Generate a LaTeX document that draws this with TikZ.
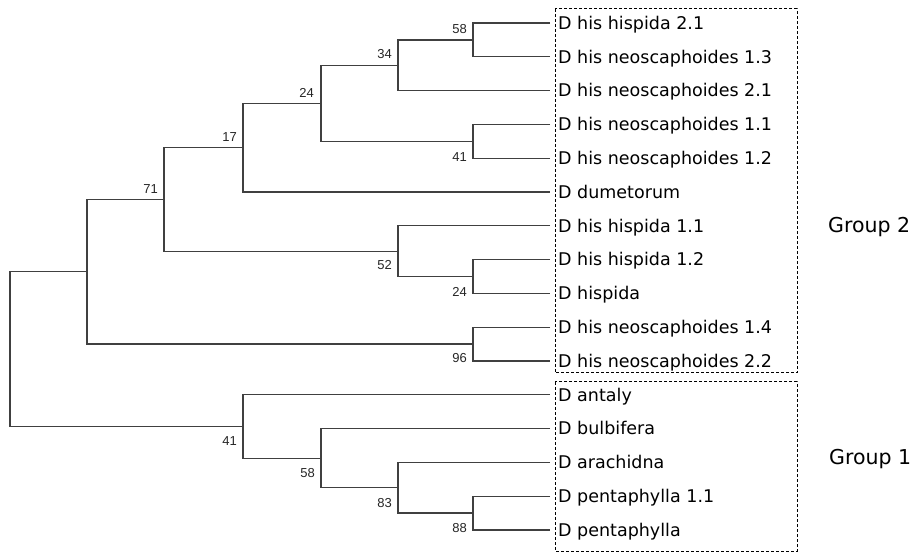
\documentclass[tikz,border=0pt]{standalone}
\usepackage{fontspec}
\setmainfont{DejaVu Sans}
\newfontfamily\numfont{Liberation Sans}
\begin{document}
\begin{tikzpicture}[x=1pt,y=-1pt,
  branch/.style={draw=black!75,line width=1.3pt},
  leaf/.style={anchor=west,inner xsep=0pt,inner ysep=0pt,text height=12.8pt,text depth=0pt,
     font=\fontsize{17.5}{20}\selectfont},
  tipbox/.style={draw=black,line width=1pt,dash pattern=on 3pt off 2pt},
  grp/.style={anchor=west,inner sep=0pt,text height=14pt,text depth=0pt,font=\fontsize{20.5}{23}\selectfont},
  uplab/.style={anchor=south east,inner sep=0pt,font=\numfont\fontsize{13}{15}\selectfont,text=black!85},
  lowlab/.style={anchor=east,inner sep=0pt,font=\numfont\fontsize{13}{15}\selectfont,text=black!85}]
\useasboundingbox[fill=white] (0,0) rectangle (914,553);
% leaves (tips at x=550, text begins at 558)
\foreach \i/\y/\t in {1/23/D his hispida 2.1,2/56.8/D his neoscaphoides 1.3,3/90.6/D his neoscaphoides 2.1,
  4/124.4/D his neoscaphoides 1.1,5/158.2/D his neoscaphoides 1.2,6/192/D dumetorum,
  7/225.8/D his hispida 1.1,8/259.6/D his hispida 1.2,9/293.4/D hispida,
  10/327.2/D his neoscaphoides 1.4,11/361/D his neoscaphoides 2.2,12/394.8/D antaly,
  13/428.6/D bulbifera,14/462.4/D arachidna,15/496.2/D pentaphylla 1.1,16/530/D pentaphylla}
  {\node[leaf] (l\i) at (550,\y) {\hspace{8pt}\t};}
% internal nodes
\coordinate (n58) at (473,39.9);
\coordinate (n34) at (398,65.25);
\coordinate (n41a) at (473,141.3);
\coordinate (n24a) at (321,103.3);
\coordinate (n17) at (243,147.6);
\coordinate (n24b) at (473,276.5);
\coordinate (n52) at (398,251.2);
\coordinate (n71) at (164,199.4);
\coordinate (n96) at (473,344.1);
\coordinate (nA) at (87,271.75);
\coordinate (n88) at (473,513.1);
\coordinate (n83) at (398,487.75);
\coordinate (n58b) at (321,458.2);
\coordinate (n41b) at (243,426.5);
\coordinate (root) at (10,349.1);
% branches
\draw[branch] (l1.west) -| (n58) |- (l2.west);
\draw[branch] (n58) -| (n34) |- (l3.west);
\draw[branch] (l4.west) -| (n41a) |- (l5.west);
\draw[branch] (n34) -| (n24a) |- (n41a);
\draw[branch] (n24a) -| (n17) |- (l6.west);
\draw[branch] (l8.west) -| (n24b) |- (l9.west);
\draw[branch] (l7.west) -| (n52) |- (n24b);
\draw[branch] (n17) -| (n71) |- (n52);
\draw[branch] (l10.west) -| (n96) |- (l11.west);
\draw[branch] (n71) -| (nA) |- (n96);
\draw[branch] (l15.west) -| (n88) |- (l16.west);
\draw[branch] (l14.west) -| (n83) |- (n88);
\draw[branch] (l13.west) -| (n58b) |- (n83);
\draw[branch] (l12.west) -| (n41b) |- (n58b);
\draw[branch] (nA) -| (root) |- (n41b);
% bootstrap labels
\node[uplab] at ([shift={(-6,-6)}]n58) {58};
\node[uplab] at ([shift={(-6,-6)}]n34) {34};
\node[uplab] at ([shift={(-7,-6)}]n24a) {24};
\node[uplab] at ([shift={(-6,-6)}]n17) {17};
\node[uplab] at ([shift={(-6,-6)}]n71) {71};
\node[lowlab] at ([shift={(-6,16)}]n41a) {41};
\node[lowlab] at ([shift={(-6,14)}]n52) {52};
\node[lowlab] at ([shift={(-6,15)}]n24b) {24};
\node[lowlab] at ([shift={(-6,14)}]n96) {96};
\node[lowlab] at ([shift={(-6,15)}]n41b) {41};
\node[lowlab] at ([shift={(-6,15)}]n58b) {58};
\node[lowlab] at ([shift={(-6,15)}]n83) {83};
\node[lowlab] at ([shift={(-6,15)}]n88) {88};
% group boxes
\draw[tipbox] (555,9) rectangle (797,373);
\draw[tipbox] (555,382) rectangle (797,551);
\node[grp] (g2) at (828,226) {Group 2};
\node[grp] (g1) at (829,458) {Group 1};
\end{tikzpicture}
\end{document}
